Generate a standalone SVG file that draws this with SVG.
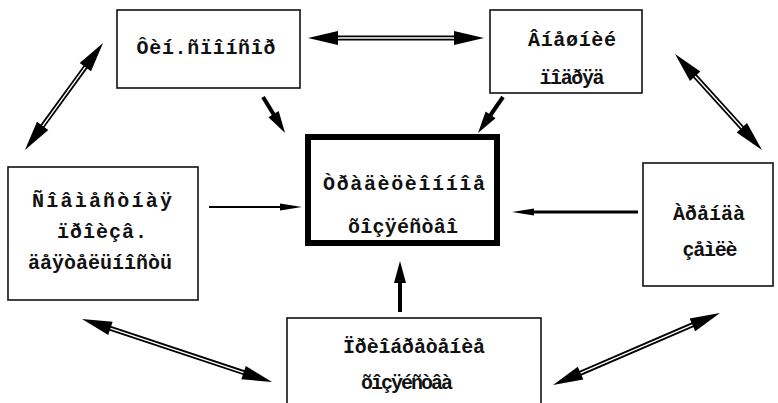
<svg xmlns="http://www.w3.org/2000/svg" width="778" height="403" viewBox="0 0 778 403">
<style>
.box{fill:#fff;stroke:#111;stroke-width:1.6}
.main{fill:#fff;stroke:#000;stroke-width:6}
.t{font-family:"Liberation Mono","DejaVu Sans Mono",monospace;font-weight:bold;font-size:20px;fill:#111;text-anchor:middle}
.dbl{stroke:#000;stroke-width:5;fill:none;marker-start:url(#hd);marker-end:url(#hd)}
.wht{stroke:#fff;stroke-width:1.4;fill:none}
.one{stroke:#000;stroke-width:4;fill:none;marker-end:url(#hl)}
.thin{stroke:#000;stroke-width:2;fill:none;marker-end:url(#hs)}
</style>
<defs>
<marker id="hd" markerUnits="userSpaceOnUse" markerWidth="32" markerHeight="14" refX="15" refY="7" orient="auto-start-reverse" overflow="visible"><path d="M0,0 L30,7 L0,14 Z" fill="#000"/></marker>
<marker id="hl" markerUnits="userSpaceOnUse" markerWidth="24" markerHeight="14" refX="11" refY="6" orient="auto" overflow="visible"><path d="M0,0 L22,6 L0,12 Z" fill="#000"/></marker>
<marker id="hs" markerUnits="userSpaceOnUse" markerWidth="24" markerHeight="8" refX="11" refY="3.5" orient="auto" overflow="visible"><path d="M0,0 L22,3.5 L0,7 Z" fill="#000"/></marker>
</defs>
<g id="connectors">
<path class="dbl" d="M323,38 L469,38"/><path class="wht" d="M338,38 L454,38"/>
<path class="dbl" d="M94.2,55.1 L33.8,137.9"/><path class="wht" d="M85.3,67.2 L42.7,125.8"/>
<path class="dbl" d="M685.1,65.1 L751.9,138.9"/><path class="wht" d="M695.1,76.2 L741.9,127.8"/>
<path class="dbl" d="M96.2,323.7 L257.8,377.3"/><path class="wht" d="M110.5,328.4 L243.5,372.6"/>
<path class="dbl" d="M566.8,379.1 L706.2,318.9"/><path class="wht" d="M580.5,373.1 L692.5,324.9"/>
<path class="one" d="M263,97 L279.3,123.6"/>
<path class="one" d="M503,97 L484.3,124"/>
<path class="one" d="M400,312 L400,272"/>
<path class="thin" d="M209,207 L291,207"/>
<path class="thin" style="stroke-width:3" d="M638,212 L523,212"/>
</g>
<g id="fin">
<rect class="box" x="117" y="10" width="183" height="78"/>
<text class="t" x="206" y="54" textLength="139" lengthAdjust="spacing">Ôèí.ñïîíñîð</text>
</g>
<g id="podryad">
<rect class="box" x="490" y="10" width="152" height="83"/>
<text class="t" x="572" y="46" textLength="88" lengthAdjust="spacing">Âíåøíèé</text>
<text class="t" x="572" y="84" textLength="65" lengthAdjust="spacing">ïîäðÿä</text>
</g>
<g id="main">
<rect class="main" x="308" y="137" width="189" height="106"/>
<text class="t" x="404" y="190" textLength="162" lengthAdjust="spacing">Òðàäèöèîííîå</text>
<text class="t" x="403" y="233" textLength="110" lengthAdjust="spacing">õîçÿéñòâî</text>
</g>
<g id="joint">
<rect class="box" x="8" y="167" width="190" height="133"/>
<text class="t" x="102" y="207" textLength="140" lengthAdjust="spacing">Ñîâìåñòíàÿ</text>
<text class="t" x="102" y="238" textLength="90" lengthAdjust="spacing">ïðîèçâ.</text>
<text class="t" x="100" y="269" textLength="144" lengthAdjust="spacing">äåÿòåëüíîñòü</text>
</g>
<g id="arenda">
<rect class="box" x="643" y="163" width="130" height="123"/>
<text class="t" x="709" y="220" textLength="72" lengthAdjust="spacing">Àðåíäà</text>
<text class="t" x="710" y="256" textLength="55" lengthAdjust="spacing">çåìëè</text>
</g>
<g id="purchase">
<rect class="box" x="287" y="318" width="254" height="92"/>
<text class="t" x="414" y="353" textLength="142" lengthAdjust="spacing">Ïðèîáðåòåíèå</text>
<text class="t" x="407" y="389" textLength="92" lengthAdjust="spacing">õîçÿéñòâà</text>
</g>
</svg>
